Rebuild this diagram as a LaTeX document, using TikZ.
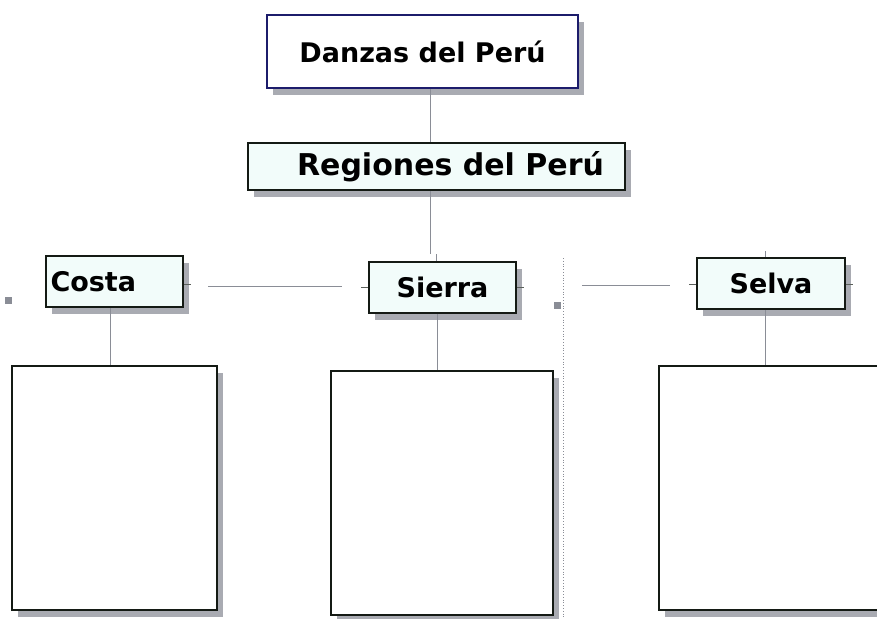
\documentclass[tikz,border=0pt]{standalone}
\usepackage{fontspec}
\setmainfont{DejaVu Sans}
\usetikzlibrary{shadows,positioning}
\definecolor{TitleNavy}{HTML}{1C1C6B}
\definecolor{BoxInk}{HTML}{141A14}
\definecolor{SoftMint}{HTML}{F2FCFA}
\definecolor{LinkGray}{HTML}{8A8D96}
\definecolor{ShadowGray}{HTML}{9A9CA4}

\begin{document}
\begin{tikzpicture}[
      x=1pt,y=-1pt,
      font=\bfseries,
      shadowed/.style={drop shadow={shadow xshift=6pt,shadow yshift=-7pt,fill=ShadowGray,opacity=0.85}},
      titlebox/.style={draw=TitleNavy,fill=white,line width=1.6pt,shadowed,inner sep=0pt},
      regionbox/.style={draw=BoxInk,fill=SoftMint,line width=1.8pt,shadowed,inner sep=0pt},
      emptybox/.style={draw=BoxInk,fill=white,line width=1.8pt,shadowed,inner sep=0pt},
      link/.style={draw=LinkGray,line width=0.8pt},
      stub/.style={draw=BoxInk!70,line width=1pt},
      marker/.style={fill=LinkGray,minimum size=7pt,inner sep=0pt}
    ]
      \useasboundingbox (0,0) rectangle (877,618);
      \clip (0,0) rectangle (877,618);
      % cajas principales
      \node[titlebox,minimum width=311pt,minimum height=73pt,font=\fontsize{27}{30}\selectfont\bfseries] (danzas) at (422.5,51.5) {Danzas del Perú};
      \node[regionbox,minimum width=377pt,minimum height=47pt,font=\fontsize{30}{32}\selectfont\bfseries] (regiones) at (436.5,166.5) {\hspace*{28pt}Regiones del Perú};
      \node[regionbox,minimum width=137pt,minimum height=51pt,font=\fontsize{27}{30}\selectfont\bfseries,text width=128pt,align=left] (costa) at (114.5,281.5) {Costa};
      \node[regionbox,minimum width=147pt,minimum height=51pt,font=\fontsize{27}{30}\selectfont\bfseries] (sierra) at (442.5,287.5) {Sierra};
      \node[regionbox,minimum width=148pt,minimum height=51pt,font=\fontsize{27}{30}\selectfont\bfseries] (selva) at (771,283.5) {Selva};
      % cajas vacias
      \node[emptybox,minimum width=205pt,minimum height=244pt] (costaBody) at (114.5,488) {};
      \node[emptybox,minimum width=222pt,minimum height=244pt] (sierraBody) at (442,493) {};
      \node[emptybox,minimum width=236pt,minimum height=244pt] (selvaBody) at (777,488) {};
      % conectores
      \coordinate (regionesFoot) at (430,254);
      \coordinate (costaLinkA) at (208,286);
      \coordinate (costaLinkB) at (342,286);
      \coordinate (selvaLinkA) at (582,285);
      \coordinate (selvaLinkB) at (670,285);
      \coordinate (dotTop) at (563,258);
      \coordinate (dotFoot) at (563,618);
      \draw[link] (danzas.south -| 430,0) -- (regiones.north -| 430,0);
      \draw[link] (regiones.south -| 430,0) -- (regionesFoot);
      \draw[link] (costa.south -| 110,0) -- (costaBody.north -| 110,0);
      \draw[link] (sierra.south -| 437,0) -- (sierraBody.north -| 437,0);
      \draw[link] (selva.south -| 765,0) -- (selvaBody.north -| 765,0);
      \draw[link] (costaLinkA) -- (costaLinkB);
      \draw[link] (selvaLinkA) -- (selvaLinkB);
      \draw[link,dotted,line width=1pt] (dotTop) -- (dotFoot);
      % pequenos trazos en los bordes
      \draw[stub] (costa.east |- 0,284) -- ++(7,0);
      \draw[stub] (sierra.west |- 0,287) -- ++(-7,0);
      \draw[stub] (sierra.east |- 0,287) -- ++(7,0);
      \draw[stub] (selva.west |- 0,284) -- ++(-7,0);
      \draw[stub] (selva.east |- 0,284) -- ++(7,0);
      \draw[link] (sierra.north -| 436,0) -- ++(0,-7);
      \draw[link] (selva.north -| 765,0) -- ++(0,-6);
      \node[marker] (markLeft) at (8,300) {};
      \node[marker] (markMid) at (557,305) {};
    \end{tikzpicture}
\end{document}
